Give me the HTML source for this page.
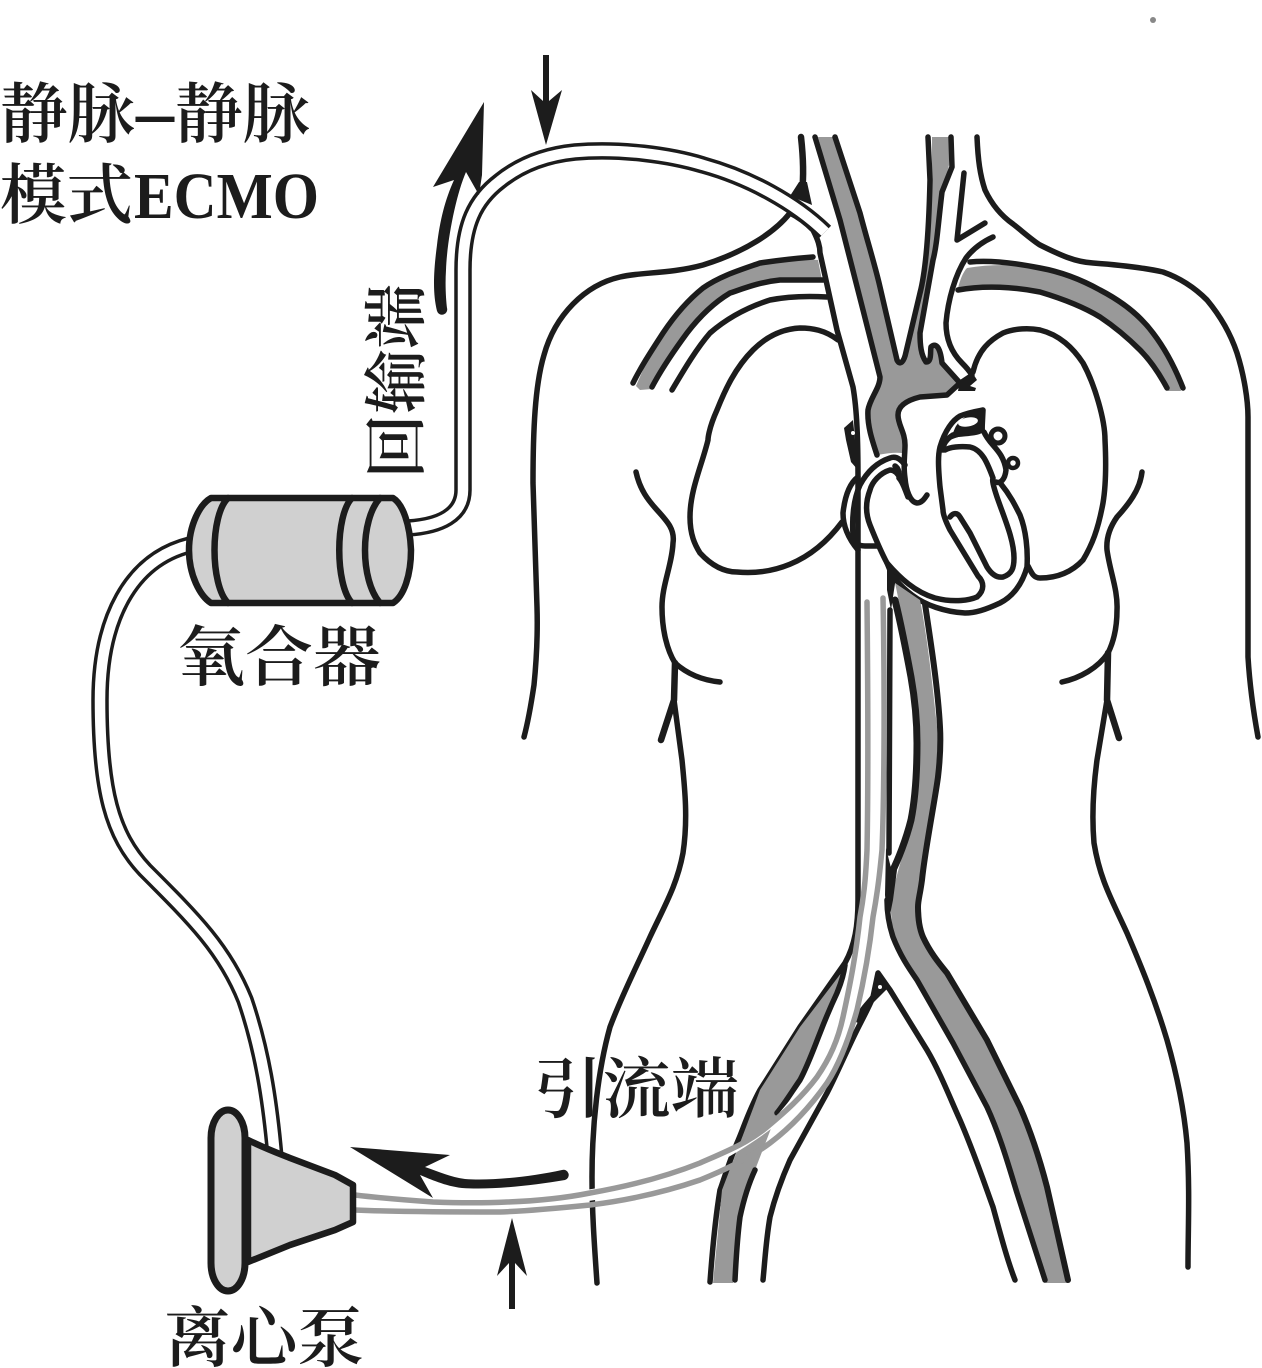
<!DOCTYPE html>
<html><head><meta charset="utf-8"><style>
html,body{margin:0;padding:0;background:#fff}
svg{display:block}
text{fill:#1c1c1c;font-family:"Noto Serif CJK SC","Liberation Serif",serif;font-weight:600}
.l{fill:none;stroke:#1c1c1c;stroke-width:5.5;stroke-linecap:round;stroke-linejoin:round}
.v{fill:none;stroke:#1c1c1c;stroke-width:5.5;stroke-linecap:round;stroke-linejoin:round}
.g{fill:#999;stroke:none}
.t{fill:none;stroke:#1c1c1c;stroke-width:17.5;stroke-linecap:butt}
.w{fill:none;stroke:#fff;stroke-width:10.5}
.c{fill:none;stroke:#999;stroke-width:5.5;stroke-linecap:round}
</style></head><body>
<svg width="1262" height="1368" viewBox="0 0 1262 1368" xmlns="http://www.w3.org/2000/svg">
<rect width="1262" height="1368" fill="#fff"/>
<circle cx="1153" cy="20" r="3" fill="#888"/>

<!-- body outlines -->
<path class="l" d="M790 213C775 232 745 252 703 265C670 274 640 272 620 277C585 285 555 315 544 355C535 385 533 430 533 483L537 607C538 640 536 665 534 685C531 705 528 722 524 737"/>
<path class="l" d="M636 472C640 490 648 500 657 510C668 522 675 530 673 543C672 565 662 585 662 607C662 630 667 650 675 663C685 672 700 680 720 682"/>
<path class="v" style="stroke-width:6.5" d="M675 663L674 700L661 740"/>
<path class="l" d="M674 700L682 760C685 790 688 820 683 853C677 885 665 905 650 937C635 970 622 995 610 1027C598 1070 592 1125 592 1177C592 1210 594 1240 597 1283"/>
<path class="l" d="M1142 472C1140 490 1128 505 1117 517C1110 527 1106 538 1107 550C1110 572 1118 590 1117 610C1117 628 1113 643 1108 653C1098 668 1080 678 1062 682"/>
<path class="v" style="stroke-width:6.5" d="M1108 653L1107 700L1119 738"/>
<path class="l" d="M1107 700L1097 760C1093 790 1092 820 1094 843C1100 880 1112 900 1127 933C1142 968 1155 1000 1167 1040C1177 1075 1184 1110 1187 1143C1190 1190 1188 1230 1188 1267"/>
<path class="v" style="stroke-width:6.5" d="M801 137C803 155 804 175 802 192"/>
<path fill="#1c1c1c" d="M799 182L807 182L812 205L790 196Z"/>
<path class="l" d="M977 137C978 160 980 175 985 190C993 207 1003 217 1013 224C1022 231 1032 240 1040 245C1060 255 1075 262 1093 263C1120 265 1145 268 1163 272C1180 278 1195 288 1207 300C1222 318 1231 335 1237 353C1244 375 1248 400 1248 417V657C1250 690 1254 715 1258 737"/>
<path class="l" d="M964 173L957 240L985 223"/>
<path class="l" d="M993 237C980 243 972 250 966 258C955 275 948 300 946 323C946 340 952 353 962 363C967 368 970 372 972 375"/>

<!-- lungs -->
<path class="l" d="M838 340C825 330 812 328 800 328C780 329 765 338 753 350C735 368 725 390 717 410C708 430 708 440 708 440C702 465 690 490 690 517C690 535 695 545 700 553C712 566 725 572 737 572C770 575 810 565 842 522"/>
<path class="l" d="M973 372C978 350 990 340 1003 333C1015 328 1030 328 1040 330C1060 335 1073 348 1083 363C1095 385 1105 420 1105 440C1106 460 1106 485 1103 503C1098 530 1092 545 1083 560C1070 574 1055 578 1040 578C1034 578 1032 574 1028 566"/>

<!-- left subclavian -->
<path class="g" d="M636 386C645 365 652 350 663 333C675 315 688 300 703 288C720 276 740 270 760 263C780 260 800 258 818 260L822 280C805 280 790 280 780 280C760 282 745 288 730 293C715 302 700 316 687 333C672 352 662 370 652 389L640 390Z"/>
<path class="v" d="M633 383C642 365 652 350 663 333C675 315 688 300 703 288C720 276 740 270 760 263C780 260 800 258 813 257"/>
<path class="v" d="M652 387C662 368 673 352 687 333C700 316 715 302 730 293C745 288 760 282 780 280C795 280 810 280 823 280"/>
<path class="l" d="M672 390C685 368 697 348 710 333C725 320 745 308 770 300C790 296 810 296 827 297"/>
<path class="l" d="M790 213C798 217 806 223 813 230C818 240 820 246 820 253L837 330L853 387C857 410 858 440 858 480"/>

<!-- right subclavian -->
<path class="g" d="M967 268C990 264 1015 264 1040 268C1062 272 1082 280 1100 290C1125 303 1142 318 1153 333C1166 350 1176 370 1181 391L1168 391C1160 375 1152 362 1140 350C1128 338 1115 327 1100 317C1082 306 1060 298 1040 292C1015 287 985 285 958 288C960 280 963 272 967 268Z"/>
<path class="v" d="M970 262C990 260 1015 263 1040 268C1062 272 1082 280 1100 290C1125 303 1142 318 1153 333C1166 350 1176 370 1183 388"/>
<path class="v" d="M958 290C985 285 1015 287 1040 292C1060 298 1082 306 1100 317C1115 327 1128 338 1140 350C1152 362 1160 375 1167 388"/>

<!-- SVC + IJ + arch gray -->
<path class="g" d="M818 137H835L860 213C867 240 875 265 880 287L897 360C900 366 904 362 906 352L920 293C925 275 930 220 932 180L932 137H949L949 165L942 195C938 225 937 245 933 260L920 333C920 345 921 355 926 362C932 362 930 352 931 347C935 343 938 348 942 363L960 383C955 392 950 395 945 396C935 396 925 395 920 397C908 400 898 405 898 415C898 425 905 432 905 445L902 453C893 452 885 454 877 455C870 438 867 420 868 410C872 395 880 390 880 377L863 310L840 220Z"/>
<path class="v" d="M815 137L840 220L863 310L880 377C880 388 870 398 868 410C867 425 872 440 877 455"/>
<path class="v" d="M835 137L860 213C867 240 875 265 880 287L897 360C900 366 904 362 906 352L920 293C926 270 929 225 930 180L928 137"/>
<path class="v" d="M951 137L952 167L942 192C938 225 937 245 933 260L920 333C920 345 921 355 926 362C932 362 930 352 931 347C935 343 940 345 942 363L960 383L947 395L920 397C908 400 898 405 898 415C898 425 905 432 905 445C905 455 903 465 905 478C906 490 910 502 917 503C922 503 925 498 927 495"/>
<path fill="#1c1c1c" d="M960 380L972 372L977 380L970 386L976 388L975 391L958 391Z"/>

<!-- left edge below -->
<path class="l" d="M858 480L858 900C858 925 855 945 845 963L800 1027L760 1090C748 1112 743 1130 737 1143C728 1165 722 1185 720 1190C715 1220 712 1255 710 1282"/>
<!-- heart -->
<path class="l" d="M905 465C900 458 895 456 890 458C878 462 868 470 860 485C853 500 852 520 853 535C855 543 858 546 865 546L878 546"/>
<path class="l" d="M858 477C850 483 845 495 843 513C843 525 848 538 858 550"/>
<path fill="#1c1c1c" d="M844 428L853 420L858 470L851 462L846 440Z"/>
<circle cx="853" cy="433" r="2" fill="#fff"/>
<path class="l" d="M900 478C897 472 893 470 890 470C880 473 872 482 870 490C865 503 866 515 870 525C874 535 880 550 887 563C900 578 915 592 935 598C955 603 970 600 977 597C985 590 984 582 978 576L950 530C946 522 943 515 943 510L940 487C938 465 938 455 940 447C945 430 953 420 960 416C970 412 978 411 983 410L982 430C975 434 965 433 953 435C945 440 943 445 943 450"/>
<path class="l" d="M950 517C953 513 957 512 960 517L970 533L987 567C992 575 997 578 1003 577C1012 574 1014 568 1014 558C1014 540 1005 520 997 497C993 485 992 480 993 478C988 465 983 450 970 447C960 446 950 447 945 450"/>
<path class="l" d="M895 466C899 468 900 476 899 478C903 482 905 490 908 497"/>
<path class="l" d="M1001 484C1010 495 1015 505 1020 515C1026 530 1028 550 1027 567C1022 585 1012 597 1000 603C985 610 975 613 965 613C945 612 925 605 912 595C900 586 892 577 887 563"/>
<path class="l" d="M984 432C990 446 1003 450 1006 470C1005 480 1000 484 996 482"/>
<path fill="#1c1c1c" d="M955 428C960 418 972 412 984 410L985 432C975 433 962 435 950 440ZM887 563L896 577L891 610L887 590Z"/>
<ellipse cx="968" cy="422" rx="10" ry="4.5" fill="#fff" transform="rotate(-10 968 422)"/>
<circle cx="998" cy="436" r="7" fill="#fff" stroke="#1c1c1c" stroke-width="5"/>
<circle cx="1013" cy="463" r="5" fill="#fff" stroke="#1c1c1c" stroke-width="4.5"/>

<!-- descending aorta and right iliac -->
<path class="g" d="M895 583L920 600C925 625 930 660 937 727C938 745 938 765 933 793L920 895L923 937L947 973L987 1040L1020 1107L1047 1187L1068 1283H1046L1017 1193L987 1107L953 1043L917 980L893 937L890 900C895 885 900 860 907 843C912 815 918 790 918 777L918 727C916 700 912 680 908 660C905 635 900 605 895 583Z"/>
<path fill="none" stroke="#1c1c1c" stroke-width="7" stroke-linecap="round" d="M895 600C900 620 906 650 911 677C916 705 917 725 917 743C917 775 915 800 911 820C906 840 898 860 892 872"/>
<path fill="none" stroke="#1c1c1c" stroke-width="6" stroke-linecap="round" d="M925 604C932 650 938 690 940 727C941 745 940 760 938 777C935 800 925 850 922 880C920 895 918 900 918 907C918 920 920 930 923 937C930 952 938 962 947 973L987 1040L1020 1107C1030 1130 1040 1160 1047 1187L1068 1280"/>
<path class="v" d="M887 900C887 915 890 928 893 937C900 955 908 967 917 980L953 1043L987 1107C1000 1135 1010 1170 1017 1193L1045 1280"/>
<path class="l" d="M890 610L889 853"/>
<path fill="#1c1c1c" d="M886 848L892 872L897 870L893 900L888 925L885 895Z"/>
<!-- left iliac -->
<path class="g" d="M845 968L837 993L820 1033L800 1080L777 1113L755 1170L740 1217L733 1283H713L722 1190L740 1143L760 1090L800 1027Z"/>
<path class="v" d="M845 965C843 980 838 990 837 993C830 1008 825 1020 820 1033C814 1048 808 1065 800 1080C793 1090 785 1103 777 1113M755 1170C748 1185 743 1203 740 1217C737 1240 736 1260 735 1280"/>
<path class="l" d="M858 1020C860 1010 868 1004 873 997L878 973L890 990L927 1050C940 1072 950 1098 960 1120C975 1155 985 1185 993 1207C1002 1240 1008 1262 1015 1280"/>
<path class="l" d="M763 1280C765 1260 766 1240 770 1217C775 1197 782 1178 790 1160L827 1093C835 1078 848 1048 857 1030C862 1020 870 1005 873 997"/>
<path fill="#1c1c1c" d="M878 970L889 987L871 1005L873 985Z"/>
<circle cx="880" cy="987" r="2" fill="#fff"/>

<!-- catheter -->
<path d="M355 1200C400 1207 440 1208 507 1208C560 1207 640 1197 700 1172C740 1153 790 1120 825 1080C840 1060 855 1030 860 1005C868 970 875 900 878 850C880 790 882 690 883 600L867 600C867 700 866 790 864 850C860 930 855 980 843 1017C830 1050 800 1090 767 1127C740 1150 720 1155 700 1163C640 1185 560 1193 507 1202L355 1200Z" fill="#fff"/>
<path class="c" d="M355 1195C380 1198 405 1200 433 1202C460 1203 485 1203 507 1202C535 1201 565 1198 590 1193C630 1186 665 1177 700 1163C725 1152 748 1143 767 1127C785 1112 802 1097 817 1077C830 1058 838 1040 843 1017C850 985 856 955 860 917C865 890 866 870 867 850C868 800 868 700 867 602"/>
<path class="c" d="M355 1210C400 1212 460 1212 500 1212C530 1211 560 1208 590 1205C630 1200 665 1192 700 1180C725 1170 750 1158 770 1143C790 1128 810 1107 827 1083C840 1063 850 1035 857 1010C864 980 870 945 873 917C878 890 880 870 882 850C884 800 885 700 883 598"/>

<!-- tubes -->
<path class="t" d="M408 528C440 526 463 515 463 490L463 270C463 225 475 200 500 181C520 165 545 155 575 152C620 148 670 155 703 165C750 178 795 203 825 232"/>
<path class="w" d="M408 528C440 526 463 515 463 490L463 270C463 225 475 200 500 181C520 165 545 155 575 152C620 148 670 155 703 165C750 178 795 203 825 232"/>
<path class="t" d="M190 545C130 560 100 620 100 700C100 790 112 835 145 870C195 920 225 950 245 1000C262 1050 270 1100 275 1158"/>
<path class="w" d="M190 545C130 560 100 620 100 700C100 790 112 835 145 870C195 920 225 950 245 1000C262 1050 270 1100 275 1158"/>

<!-- oxygenator -->
<path d="M211 498H393C403 504 410 525 411 550C411 575 404 596 393 603H211C200 596 189 575 189 550C189 525 200 504 211 498Z" fill="#d0d0d0" stroke="#1c1c1c" stroke-width="6.5" stroke-linejoin="round"/>
<path class="v" style="stroke-width:6.5" d="M228 498C210 515 210 585 228 603"/>
<path class="v" style="stroke-width:6.5" d="M352 498C335 515 335 585 352 603"/>
<path class="v" style="stroke-width:6.5" d="M380 498C360 520 360 580 380 603"/>

<!-- pump -->
<path d="M248 1140C262 1147 275 1152 290 1158L335 1175L353 1185V1222L335 1230L290 1245L248 1262Z" fill="#d0d0d0" stroke="#1c1c1c" stroke-width="6.5" stroke-linejoin="round"/>
<rect x="211" y="1110" width="34" height="181" rx="17" ry="28" fill="#d0d0d0" stroke="#1c1c1c" stroke-width="7"/>
<path fill="#1c1c1c" d="M352 1188L356 1196L350 1200L356 1208L352 1214Z"/>

<!-- arrows -->
<path fill="#1c1c1c" d="M350 1147L450 1155L425 1167C440 1172 450 1177 465 1179C490 1181 530 1177 562 1170A5 5 0 0 1 565 1180C530 1186 490 1190 462 1188C445 1186 430 1179 420 1175L433 1198Z"/>
<path fill="#1c1c1c" d="M512 1218L527 1276L515 1263V1309H509V1263L497 1276Z"/>
<path fill="#1c1c1c" d="M546 145L531 90L543 101V55H549V101L562 90Z"/>
<path fill="#1c1c1c" d="M484 102L482 175L479 195L466 172C456 195 447 240 446 270C445 285 446 300 447 308A5 5 0 0 1 437 311C433 295 433 275 437 245C440 220 445 200 454 180L433 187Z"/>

<!-- labels -->
<text x="0" y="137" font-size="66" textLength="135" lengthAdjust="spacingAndGlyphs">静脉</text>
<text x="136" y="137" font-size="76" style="font-family:'Liberation Serif',serif" textLength="38" lengthAdjust="spacingAndGlyphs">–</text>
<text x="175" y="137" font-size="66" textLength="135" lengthAdjust="spacingAndGlyphs">静脉</text>
<text x="0" y="218" font-size="66" textLength="133" lengthAdjust="spacingAndGlyphs">模式</text>
<text x="134" y="218" font-size="66" style="font-family:'Liberation Serif',serif;font-weight:700" textLength="185" lengthAdjust="spacingAndGlyphs">ECMO</text>
<text x="177" y="680" font-size="66" textLength="204" lengthAdjust="spacingAndGlyphs">氧合器</text>
<text x="164" y="1361" font-size="66" textLength="200" lengthAdjust="spacingAndGlyphs">离心泵</text>
<text x="534" y="1112" font-size="66" textLength="205" lengthAdjust="spacingAndGlyphs">引流端</text>
<text transform="translate(419 479) rotate(-90)" font-size="64" textLength="195" lengthAdjust="spacingAndGlyphs">回输端</text>
</svg>
</body></html>
